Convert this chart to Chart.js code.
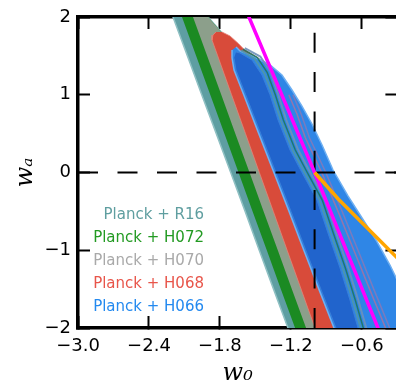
<!DOCTYPE html>
<html><head><meta charset="utf-8">
<script src="https://cdn.jsdelivr.net/npm/chart.js@4.4.1/dist/chart.umd.min.js"></script>
<style>html,body{margin:0;padding:0;overflow:hidden;background:#fff;width:396px;height:389px}canvas{display:block}</style>
</head><body>
<canvas id="c" width="400" height="389"></canvas>
<script>
// ---- data (w0, wa) ----
const xTickValues = [-3.0, -2.4, -1.8, -1.2, -0.6];
const yTickValues = [-2, -1, 0, 1, 2];
const seriesNames = ['Planck + R16', 'Planck + H072', 'Planck + H070', 'Planck + H068', 'Planck + H066'];
const legendColors = ['#5f9ea0', '#229a22', '#a9a9a9', '#e8554a', '#2389ef'];

const r16Region = [[-2.269,2.3],[-2.197,2.0],[-2.075,1.5],[-1.954,1.0],[-1.831,0.5],[-1.709,0.0],[-1.587,-0.5],[-1.468,-1.0],[-1.347,-1.5],[-1.225,-2.0],[-1.153,-2.3],
  [-0.11,-2.3],[-0.18,-2.0],[-0.30,-1.51],[-0.40,-1.19],[-0.52,-0.87],[-0.64,-0.585],[-0.76,-0.30],[-0.885,0.03],[-0.98,0.35],[-1.065,0.62],[-1.15,0.85],[-1.23,1.06],[-1.32,1.27],[-1.50,1.44],[-1.631,1.576],[-1.774,1.781],[-1.901,2.0],[-2.05,2.3]];
const h072Region = [[-2.193,2.3],[-2.121,2.0],[-2.001,1.5],[-1.882,1.0],[-1.762,0.5],[-1.643,0.0],[-1.524,-0.5],[-1.404,-1.0],[-1.285,-1.5],[-1.165,-2.0],[-1.093,-2.3],
  [-0.11,-2.3],[-0.18,-2.0],[-0.30,-1.51],[-0.40,-1.19],[-0.52,-0.87],[-0.64,-0.585],[-0.76,-0.30],[-0.885,0.03],[-0.98,0.35],[-1.065,0.62],[-1.15,0.85],[-1.23,1.06],[-1.32,1.27],[-1.50,1.44],[-1.631,1.576],[-1.774,1.781],[-1.901,2.0],[-2.05,2.3]];
const h070Region = [[-2.100,2.3],[-2.028,2.0],[-1.908,1.5],[-1.789,1.0],[-1.670,0.5],[-1.550,0.0],[-1.431,-0.5],[-1.311,-1.0],[-1.192,-1.5],[-1.072,-2.0],[-1.000,-2.3],
  [-0.11,-2.3],[-0.18,-2.0],[-0.30,-1.51],[-0.40,-1.19],[-0.52,-0.87],[-0.64,-0.585],[-0.76,-0.30],[-0.885,0.03],[-0.98,0.35],[-1.065,0.62],[-1.15,0.85],[-1.23,1.06],[-1.32,1.27],[-1.50,1.44],[-1.631,1.576],[-1.774,1.781],[-1.901,2.0],[-2.05,2.3]];
const h068Region = [[-1.833,1.807],[-1.859,1.768],[-1.867,1.704],[-1.819,1.5],[-1.702,1.0],[-1.584,0.5],[-1.467,0.0],[-1.349,-0.5],[-1.232,-1.0],[-1.114,-1.5],[-0.997,-2.0],[-0.926,-2.3],
  [-0.11,-2.3],[-0.18,-2.0],[-0.30,-1.51],[-0.40,-1.19],[-0.52,-0.87],[-0.64,-0.585],[-0.76,-0.30],[-0.885,0.03],[-0.98,0.35],[-1.065,0.62],[-1.15,0.85],[-1.23,1.06],[-1.32,1.27],[-1.42,1.42],[-1.60,1.59],[-1.645,1.66],[-1.715,1.756],[-1.783,1.807]];
const h066Region95 = [[-1.664,1.614],[-1.631,1.563],[-1.504,1.486],[-1.377,1.383],[-1.276,1.254],[-1.191,1.061],[-1.107,0.855],[-1.022,0.624],[-0.937,0.354],[-0.844,0.032],[-0.718,-0.302],[-0.599,-0.585],[-0.481,-0.868],[-0.363,-1.190],[-0.261,-1.511],[-0.143,-2.0],[-0.075,-2.296],
  [-0.761,-2.3],[-0.836,-2.0],[-0.964,-1.5],[-1.091,-1.0],[-1.216,-0.5],[-1.344,0.0],[-1.472,0.5],[-1.599,1.0],[-1.681,1.318],[-1.698,1.473],[-1.698,1.576]];
const h066Region68 = [[-1.664,1.55],[-1.631,1.537],[-1.529,1.447],[-1.445,1.254],[-1.377,1.0],[-1.309,0.675],[-1.208,0.289],[-1.107,0.0],[-0.980,-0.354],[-0.887,-0.778],[-0.785,-1.228],[-0.701,-1.640],[-0.633,-2.0],[-0.582,-2.296],
  [-0.744,-2.3],[-0.819,-2.0],[-0.947,-1.5],[-1.074,-1.0],[-1.199,-0.5],[-1.327,0.0],[-1.455,0.5],[-1.582,1.0],[-1.664,1.318],[-1.681,1.47]];
const edgeTeal = [[-1.62,1.57],[-1.507,1.462],[-1.423,1.269],[-1.355,1.0],[-1.287,0.675],[-1.186,0.289],[-1.085,0.0],[-0.958,-0.354],[-0.865,-0.778],[-0.763,-1.228],[-0.679,-1.640],[-0.611,-2.0],[-0.560,-2.296]];
const edgeGreen = [[-1.605,1.585],[-1.484,1.477],[-1.400,1.284],[-1.332,1.0],[-1.264,0.675],[-1.163,0.289],[-1.062,0.0],[-0.935,-0.354],[-0.842,-0.778],[-0.740,-1.228],[-0.656,-1.640],[-0.588,-2.0],[-0.537,-2.296]];
const edgeGray = [[-1.59,1.60],[-1.459,1.492],[-1.375,1.299],[-1.307,1.0],[-1.239,0.675],[-1.138,0.289],[-1.037,0.0],[-0.910,-0.354],[-0.817,-0.778],[-0.715,-1.228],[-0.631,-1.640],[-0.563,-2.0],[-0.512,-2.296]];
const edgePink1 = [[-1.218,1.0],[-1.148,0.75],[-1.079,0.45],[-0.940,0.0],[-0.802,-0.5],[-0.668,-1.0],[-0.535,-1.5],[-0.40,-2.0],[-0.32,-2.3]];
const edgePink2 = [[-1.183,1.0],[-1.113,0.75],[-1.044,0.45],[-0.905,0.0],[-0.767,-0.5],[-0.633,-1.0],[-0.50,-1.5],[-0.365,-2.0],[-0.285,-2.3]];
const magentaLine = [[-1.64,2.3],[-1.555,2.0],[-1.0,0.0],[-0.464,-2.0],[-0.38,-2.3]];
const orangeLine = [[-1.0,0.0],[-0.80,-0.34],[-0.30,-1.10]];
const refLineW0 = [[-1.0,2.0],[-1.0,-2.0]];
const refLineWa = [[-3.0,0.0],[-0.3,0.0]];

// ---- chart ----
const toXY = a => a.map(p => ({x: p[0], y: p[1]}));
const layers = [
  {data: r16Region, fill: 'shape', backgroundColor: '#5e9ea2', borderColor: '#8fc0c3', borderWidth: 1.5},
  {data: h072Region, fill: 'shape', backgroundColor: '#1b8a22', borderColor: '#1b8a22', borderWidth: 0},
  {data: h070Region, fill: 'shape', backgroundColor: '#8c9f8b', borderColor: '#8c9f8b', borderWidth: 0},
  {data: h068Region, fill: 'shape', backgroundColor: '#d84b3a', borderColor: 'rgba(230,130,120,0.8)', borderWidth: 1},
  {data: h066Region95, fill: 'shape', backgroundColor: '#2f86e6', borderColor: '#6fb0f2', borderWidth: 1.5},
  {data: h066Region68, fill: 'shape', backgroundColor: '#2164cc', borderColor: '#3a7fd8', borderWidth: 1},
  {data: edgeTeal, fill: false, borderColor: 'rgba(80,150,170,0.9)', borderWidth: 2},
  {data: edgeGreen, fill: false, borderColor: 'rgba(30,120,95,0.9)', borderWidth: 1.5},
  {data: edgeGray, fill: false, borderColor: 'rgba(110,145,185,0.9)', borderWidth: 2},
  {data: edgePink1, fill: false, borderColor: 'rgba(160,115,165,0.9)', borderWidth: 1.5},
  {data: edgePink2, fill: false, borderColor: 'rgba(140,120,180,0.8)', borderWidth: 1.5},
  {data: refLineWa, fill: false, borderColor: '#000', borderWidth: 2, borderDash: [20, 19.5]},
  {data: refLineW0, fill: false, borderColor: '#000', borderWidth: 2, borderDash: [20, 19.3], borderDashOffset: 23.5},
  {data: magentaLine, fill: false, borderColor: '#ff00ff', borderWidth: 3.5},
  {data: orangeLine, fill: false, borderColor: '#ffa500', borderWidth: 3.5}
];
const datasets = layers.map((l, i) => Object.assign({}, l, {
  data: toXY(l.data), order: layers.length - i, pointRadius: 0, pointHoverRadius: 0, tension: 0
}));

const minus = s => s.replace('-', '\u2212');
const tickGrid = {display: true, drawOnChartArea: false, drawTicks: true, tickLength: -12, tickWidth: 2, tickColor: '#000'};
const border = {display: true, color: '#000', width: 3.5};
const noPad = s => { s.paddingTop = 0; s.paddingBottom = 0; s.paddingLeft = 0; s.paddingRight = 0; };

const legendPlugin = {
  id: 'textLegend',
  afterDraw(chart) {
    const {ctx, chartArea} = chart;
    ctx.save();
    ctx.font = '15px "DejaVu Sans"';
    ctx.textAlign = 'right';
    ctx.textBaseline = 'middle';
    seriesNames.forEach((name, i) => {
      ctx.fillStyle = legendColors[i];
      ctx.fillText(name, chartArea.left + 126, chartArea.top + 198 + i * 23);
    });
    ctx.restore();
  }
};

Chart.defaults.font.family = '"DejaVu Sans"';
new Chart(document.getElementById('c'), {
  type: 'line',
  data: {datasets},
  plugins: [legendPlugin],
  options: {
    responsive: false,
    animation: false,
    events: [],
    layout: {padding: {top: 17, right: 2.6, left: 0, bottom: 0}, autoPadding: false},
    plugins: {legend: {display: false}, tooltip: {enabled: false}},
    scales: {
      x: {
        type: 'linear', position: 'bottom', min: -3, max: -0.3,
        afterBuildTicks: s => { s.ticks = xTickValues.map(v => ({value: v})); },
        afterFit: s => { s.height = 61; noPad(s); },
        ticks: {callback: v => minus(Number(v).toFixed(1)), padding: 20, color: '#000', font: {size: 18}, maxRotation: 0, autoSkip: false},
        grid: tickGrid, border: border,
        title: {display: true, text: 'w\u2080', color: '#000', font: {family: '"DejaVu Serif"', style: 'italic', size: 24}, padding: {top: 0, bottom: 1}}
      },
      y: {
        type: 'linear', position: 'left', min: -2, max: 2,
        afterBuildTicks: s => { s.ticks = yTickValues.map(v => ({value: v})); },
        afterFit: s => { s.width = 78; noPad(s); },
        ticks: {callback: v => minus(Number(v).toFixed(0)), padding: 19, color: '#000', font: {size: 18}, autoSkip: false},
        grid: tickGrid, border: border,
        title: {display: true, text: 'w\u2090', color: '#000', font: {family: '"DejaVu Serif"', style: 'italic', size: 24}, padding: {top: 11, bottom: 0}}
      },
      x2: {
        type: 'linear', position: 'top', min: -3, max: -0.3,
        afterBuildTicks: s => { s.ticks = xTickValues.map(v => ({value: v})); },
        afterFit: s => { s.height = 0; noPad(s); },
        ticks: {display: false}, grid: tickGrid, border: border
      },
      y2: {
        type: 'linear', position: 'right', min: -2, max: 2,
        afterBuildTicks: s => { s.ticks = yTickValues.map(v => ({value: v})); },
        afterFit: s => { s.width = 0; noPad(s); },
        ticks: {display: false}, grid: tickGrid, border: border
      }
    }
  }
});
</script>
</body></html>
